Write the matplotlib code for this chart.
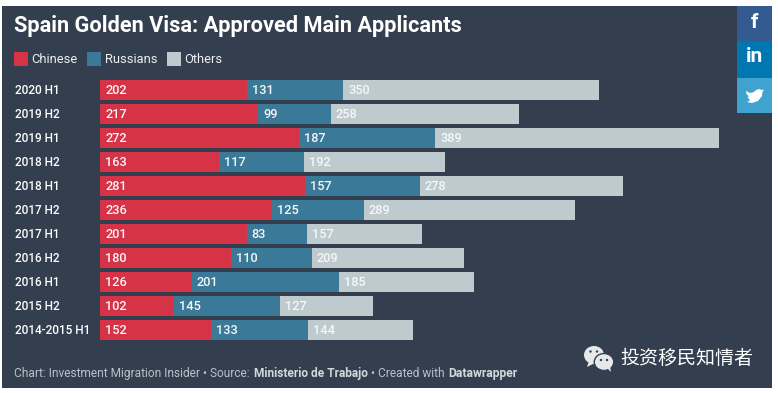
import matplotlib
matplotlib.use("Agg")
import matplotlib.pyplot as plt
from matplotlib.patches import Rectangle, Ellipse, Polygon

labels = ["2020 H1", "2019 H2", "2019 H1", "2018 H2", "2018 H1", "2017 H2",
          "2017 H1", "2016 H2", "2016 H1", "2015 H2", "2014-2015 H1"]
chinese = [202, 217, 272, 163, 281, 236, 201, 180, 126, 102, 152]
russians = [131, 99, 187, 117, 157, 125, 83, 110, 201, 145, 133]
others = [350, 258, 389, 192, 278, 289, 157, 209, 185, 127, 144]
series_names = ["Chinese", "Russians", "Others"]

colors = ["#d73347", "#3a7a98", "#bfcace"]
panel_col = "#333e4e"
W, H = 778, 393

plt.rcParams['font.family'] = ['Roboto', 'Noto Sans CJK SC', 'DejaVu Sans']

fig = plt.figure(figsize=(W/100., H/100.), dpi=100, facecolor="white")

#pixel overlay for the dark panel and everything around the bars
bg = fig.add_axes([0, 0, 1, 1], zorder=0)
bg.set_xlim(0, W)
bg.set_ylim(H, 0)
bg.axis("off")
bg.add_patch(Rectangle((2, 6), 770, 382, color=panel_col, lw=0))

bg.text(14, 26, "Spain Golden Visa: Approved Main Applicants", color="white",
        fontsize=15.7, fontweight="bold", va="center", ha="left")

#legend
for x, tx, name, c in zip([14, 87, 167], [31, 105, 184.5], series_names, colors):
    bg.add_patch(Rectangle((x, 52), 14, 14, color=c, lw=0))
    bg.text(tx, 59.5, name, color="#eef0f1", fontsize=9.3, va="center", ha="left")

#footer
foot = "#b9c2c8"
fy = 373.5
bg.text(14, fy, "Chart: Investment Migration Insider • Source:", color=foot,
        fontsize=8.6, va="center", ha="left")
bg.text(254.5, fy, "Ministerio de Trabajo", color="#d2d8dc", fontsize=8.6,
        fontweight="bold", va="center", ha="left")
bg.text(371, fy, "• Created with", color=foot, fontsize=8.6, va="center", ha="left")
bg.text(448.5, fy, "Datawrapper", color="#d2d8dc", fontsize=8.7,
        fontweight="bold", va="center", ha="left")

#share buttons
for y0, y1, c in [(6, 41, "#335a91"), (41, 78, "#0077b1"), (78, 113, "#40a2cf")]:
    bg.add_patch(Rectangle((737, y0), 35, y1-y0, color=c, lw=0))
bg.text(754.5, 22, "f", color="white", fontsize=15, fontweight="bold", ha="center", va="center")
bg.text(754.5, 56, "in", color="white", fontsize=15, fontweight="bold", ha="center", va="center")
bird = [(746, 91), (750, 93), (754, 92), (756, 90), (759, 89), (762, 90), (764, 89.5),
        (762.5, 92), (762, 96), (758, 101), (752, 103), (747, 102), (750, 100.5),
        (747.5, 97), (749, 96.5), (746.5, 94)]
bg.add_patch(Polygon(bird, closed=True, color="white", lw=0))

#wechat badge
bubble = "#e6e8ea"
bg.add_patch(Ellipse((594, 355), 20, 18, color=bubble, lw=0))
bg.add_patch(Polygon([(589, 361), (587, 367), (595, 363)], closed=True, color=bubble, lw=0))
bg.add_patch(Ellipse((604, 362), 19.5, 17, facecolor=bubble, edgecolor=panel_col, lw=1))
bg.add_patch(Polygon([(607, 368), (611, 372), (610, 366)], closed=True, color=bubble, lw=0))
for ex, ey in [(590.5, 351.5), (597, 351.5), (601, 360), (607, 360)]:
    bg.add_patch(Ellipse((ex, ey), 2.4, 2.4, color=panel_col, lw=0))
bg.text(620, 358.5, "投资移民知情者", color="white", fontsize=13.7, va="center", ha="left",
        family=['Noto Sans CJK SC', 'DejaVu Sans'])

#bars: 0.73 px per applicant, rows every 24 px starting at y=80
ax_left, ax_right = 100, 720
ax_top, ax_bot = 78, 342
ax = fig.add_axes([ax_left/W, 1-ax_bot/H, (ax_right-ax_left)/W, (ax_bot-ax_top)/H], zorder=1)
ax.patch.set_alpha(0)
ax.set_xlim(0, (ax_right-ax_left)/0.73)
ax.set_ylim(len(labels)-0.5, -0.5)
ax.axis("off")

ypos = list(range(len(labels)))
left = [0]*len(labels)
for vals, c, name in zip([chinese, russians, others], colors, series_names):
    ax.barh(ypos, vals, height=20/24., left=left, color=c, lw=0, label=name)
    for i, v in enumerate(vals):
        ax.annotate(str(v), xy=(left[i], i), xytext=(5, -0.5), textcoords="offset pixels",
                    color="#f6f7f8", fontsize=9.2, fontweight="medium", va="center", ha="left")
    left = [a+b for a, b in zip(left, vals)]

for i, lab in enumerate(labels):
    ax.annotate(lab, xy=(0, i), xytext=(-85, -0.5), textcoords="offset pixels",
                color="white", fontsize=8.5, fontweight="medium", va="center", ha="left",
                annotation_clip=False)

fig.savefig("out.png", dpi=100, facecolor="white")
